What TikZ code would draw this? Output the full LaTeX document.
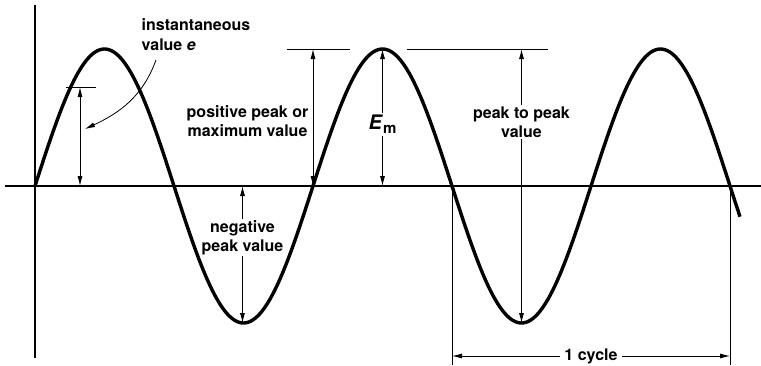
\documentclass[tikz,border=0pt]{standalone}
\usepackage{fontspec}
\setmainfont{TeX Gyre Heros}
\usetikzlibrary{arrows.meta,positioning}
\tikzset{
  axisline/.style={line width=1.4pt},
  wave/.style={line width=3.4pt},
  dimline/.style={{Latex[length=10pt,width=5pt]}-{Latex[length=10pt,width=5pt]},line width=0.8pt},
  pointer/.style={-{Latex[length=10pt,width=5pt]},line width=0.8pt},
  tickline/.style={line width=0.8pt},
  lbl/.style={font=\fontsize{16}{19}\selectfont\bfseries,align=center,inner sep=1.5pt}
}

\begin{document}
\begin{tikzpicture}[x=1pt,y=1pt]
\useasboundingbox (-35,-179) rectangle (726,186);

% axes
\coordinate (origin) at (0,0);
\coordinate (ytop) at (0,181);
\coordinate (ybot) at (0,-172);
\coordinate (xleft) at (-30,0);
\coordinate (xright) at (726,0);
\draw[axisline] (ytop) -- (ybot);
\draw[axisline] (xleft) -- (xright);

% sine wave, period 278
\draw[wave] plot[domain=0:705,samples=400,smooth] (\x,{137*sin(1.29496*\x)});

% instantaneous value e
\coordinate (insttop) at (45,99);
\coordinate (instbot) at (45,0);
\draw[tickline] (31,99) -- (61,99);
\draw[dimline] (insttop) -- (instbot);
\node[lbl,align=left,anchor=north west,font=\fontsize{16}{20}\selectfont\bfseries] (instlbl) at (105,169) {instantaneous\\value \textit{e}};
\coordinate (instfrom) at (121,126);
\coordinate (instto) at (50,57);
\draw[pointer] (instfrom) to[out=-110,in=25] (instto);

% positive peak
\coordinate (pptop) at (278,137);
\coordinate (ppbot) at (278,0);
\coordinate (ppmid) at (278,65);
\draw[tickline] (252,137) -- (315,137);
\draw[dimline] (pptop) -- (ppbot);
\node[lbl,left=3pt of ppmid] (pplbl) {positive peak or\\maximum value};

% E_m
\coordinate (emtop) at (347.5,137);
\coordinate (embot) at (347.5,0);
\draw[dimline] (emtop) -- (embot)
  node[pos=0.55,fill=white,inner sep=2pt,font=\fontsize{20}{20}\selectfont\bfseries] (emlbl)
  {\textit{E}\raisebox{-4pt}{\fontsize{15}{15}\selectfont m}};

% peak to peak
\coordinate (p2ptop) at (486.5,137);
\coordinate (p2pbot) at (486.5,-137);
\draw[tickline] (372,137) -- (513,137);
\draw[dimline] (p2ptop) -- (p2pbot);
\node[lbl,fill=white] (p2plbl) at (486.5,64) {peak to peak\\value};

% negative peak
\coordinate (nptop) at (207.5,0);
\coordinate (npbot) at (207.5,-137);
\draw[dimline] (nptop) -- (npbot);
\node[lbl,fill=white] (nplbl) at (207.5,-51.5) {negative\\peak value};

% 1 cycle
\coordinate (cyca) at (417,0);
\coordinate (cycb) at (695,0);
\coordinate (cycabot) at (417,-179);
\coordinate (cycbbot) at (695,-179);
\draw[tickline] (cyca) -- (cycabot);
\draw[tickline] (cycb) -- (cycbbot);
\draw[dimline] (417,-170) -- (695,-170)
  node[lbl,midway,fill=white,inner sep=4pt] (cyclbl) {1 cycle};

\end{tikzpicture}
\end{document}
